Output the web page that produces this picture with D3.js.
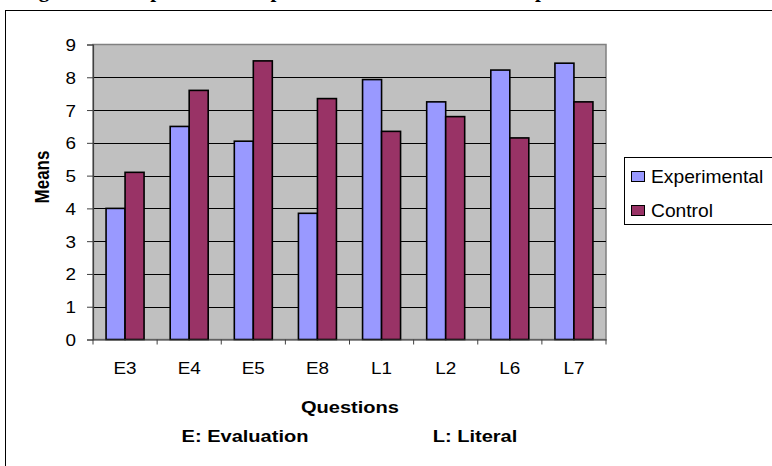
<!DOCTYPE html>
<html>
<head>
<meta charset="utf-8">
<script src="https://cdn.jsdelivr.net/npm/d3@7"></script>
<style>
  html, body { margin: 0; padding: 0; background: #fff; }
  svg { display: block; }
  text { font-family: "Liberation Sans", Arial, sans-serif; fill: #000; }
</style>
</head>
<body>
<svg id="chart" width="772" height="466"></svg>
<script>
// Question categories and the two groups' mean scores
const questions = ["E3", "E4", "E5", "E8", "L1", "L2", "L6", "L7"];
const seriesNames = ["Experimental", "Control"];
const experimental = [4.0, 6.5, 6.05, 3.85, 7.93, 7.25, 8.22, 8.43];
const control = [5.1, 7.6, 8.5, 7.35, 6.35, 6.8, 6.15, 7.25];
const yTicks = [0, 1, 2, 3, 4, 5, 6, 7, 8, 9];
const keyNotes = ["E: Evaluation", "L: Literal"];

const colors = { Experimental: "#9999FF", Control: "#993366" };
const series = { Experimental: experimental, Control: control };
const stretch = 1.18;

const svg = d3.select("#chart");

// page title (runs off the top edge)
svg.append("text")
  .attr("x", 20).attr("y", -3)
  .style("font-family", "'Liberation Serif', 'Times New Roman', serif")
  .style("font-weight", "bold").style("font-size", "21px")
  .text("Figure 2: Comparison of Experimental and Control Group Means");

// outer chart frame
svg.append("rect")
  .attr("x", 5.5).attr("y", 10.5).attr("width", 820).attr("height", 520)
  .attr("fill", "#fff").attr("stroke", "#000").attr("stroke-width", 1);

const plot = { left: 93, right: 606, top: 44.5, bottom: 339.5 };

const x = d3.scaleBand().domain(questions).range([plot.left, plot.right]);
const y = d3.scaleLinear().domain([0, 9]).range([plot.bottom, plot.top]);
const barW = x.bandwidth() / 3.375;
const sub = d3.scaleBand().domain(seriesNames)
  .range([(x.bandwidth() - 2 * barW) / 2, (x.bandwidth() + 2 * barW) / 2]);

// plot background
svg.append("rect")
  .attr("x", plot.left).attr("y", plot.top)
  .attr("width", plot.right - plot.left).attr("height", plot.bottom - plot.top)
  .attr("fill", "#C0C0C0").attr("stroke", "#808080").attr("stroke-width", 1.5);

// horizontal gridlines
svg.append("g").selectAll("line")
  .data(yTicks.filter(t => t > 0 && t < 9))
  .join("line")
  .attr("x1", plot.left).attr("x2", plot.right)
  .attr("y1", d => Math.round(y(d)) + 0.5).attr("y2", d => Math.round(y(d)) + 0.5)
  .attr("stroke", "#000").attr("stroke-width", 1);

// bars
const groups = svg.append("g").selectAll("g")
  .data(questions)
  .join("g")
  .attr("transform", d => `translate(${x(d)},0)`);

groups.selectAll("rect")
  .data((q, i) => seriesNames.map(s => ({ s, v: series[s][i] })))
  .join("rect")
  .attr("x", d => sub(d.s))
  .attr("width", barW)
  .attr("y", d => y(d.v))
  .attr("height", d => y(0) - y(d.v))
  .attr("fill", d => colors[d.s])
  .attr("stroke", "#000").attr("stroke-width", 1.6);

// y axis
const yAxis = svg.append("g")
  .attr("transform", `translate(${plot.left},0)`)
  .call(d3.axisLeft(y).tickValues(yTicks).tickSize(6).tickFormat(d3.format("d")));
yAxis.select(".domain").attr("stroke", "#404040").attr("stroke-width", 1.2);
yAxis.selectAll(".tick line").attr("stroke", "#404040");
yAxis.selectAll(".tick text")
  .attr("x", null).attr("dy", null)
  .attr("transform", `translate(-17,6) scale(${stretch},1)`)
  .attr("text-anchor", "end")
  .style("font-family", "'Liberation Sans', Arial, sans-serif")
  .style("font-size", "16px").attr("fill", "#000");

// x axis
const xAxis = svg.append("g")
  .attr("transform", `translate(0,${plot.bottom})`)
  .call(d3.axisBottom(x).tickSize(0).tickPadding(0));
xAxis.select(".domain").attr("stroke", "#404040").attr("stroke-width", 1.2);
xAxis.selectAll(".tick text")
  .attr("y", null).attr("dy", null)
  .attr("transform", `translate(0,34) scale(${stretch},1)`)
  .attr("text-anchor", "middle")
  .style("font-family", "'Liberation Sans', Arial, sans-serif")
  .style("font-size", "16px").attr("fill", "#000");
// tick marks on category boundaries
xAxis.append("g").selectAll("line")
  .data(questions.map(q => x(q)).concat([plot.right]))
  .join("line")
  .attr("x1", d => d).attr("x2", d => d)
  .attr("y1", 0).attr("y2", 5)
  .attr("stroke", "#404040");

// axis titles
function label(txt, cx, cy, size, bold) {
  svg.append("text")
    .attr("transform", `translate(${cx},${cy}) scale(${stretch},1)`)
    .attr("text-anchor", "middle")
    .style("font-size", size + "px")
    .style("font-weight", bold ? "bold" : "normal")
    .text(txt);
}
label("Questions", 350, 413, 17, true);
label(keyNotes[0], 245, 442, 17, true);
label(keyNotes[1], 475, 442, 17, true);

svg.append("text")
  .attr("transform", `translate(49,177) scale(${stretch},1) rotate(-90)`)
  .attr("text-anchor", "middle")
  .style("font-size", "17px").style("font-weight", "bold")
  .text("Means");

// legend
const legend = svg.append("g");
legend.append("rect")
  .attr("x", 624.5).attr("y", 157.5).attr("width", 200).attr("height", 67)
  .attr("fill", "#fff").attr("stroke", "#000").attr("stroke-width", 1);
const items = legend.selectAll("g.item")
  .data(seriesNames)
  .join("g").attr("class", "item")
  .attr("transform", (d, i) => `translate(0,${171 + i * 34})`);
items.append("rect")
  .attr("x", 631.5).attr("y", 0.5).attr("width", 13).attr("height", 10)
  .attr("fill", d => colors[d]).attr("stroke", "#000").attr("stroke-width", 1);
items.append("text")
  .attr("transform", `translate(651,12) scale(1.1,1)`)
  .style("font-size", "17.5px")
  .text(d => d);
</script>
</body>
</html>
